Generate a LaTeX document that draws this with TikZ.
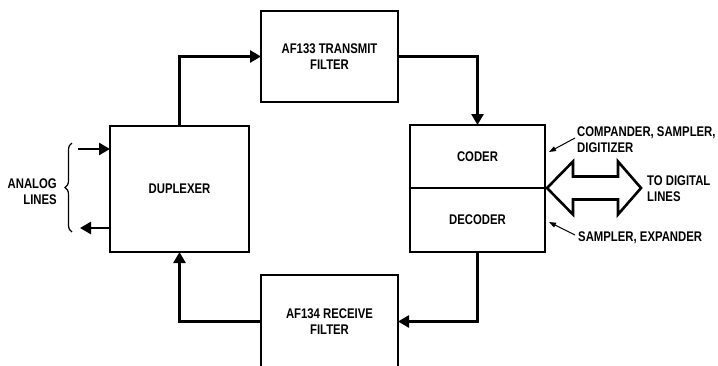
\documentclass[tikz,border=0pt]{standalone}
\usepackage{fontspec}
\newfontfamily\lblfont{Liberation Sans}[FakeStretch=0.81]
\usetikzlibrary{arrows.meta,decorations.pathreplacing,calc}
\begin{document}
\begin{tikzpicture}[x=1pt,y=-1pt,
  every node/.style={font=\lblfont\bfseries\fontsize{14}{16}\selectfont},
  blk/.style={draw, line width=2.6pt, inner sep=0pt, outer sep=0pt, align=center},
  conn/.style={line width=2.6pt, -{Triangle[length=11pt,width=12pt]}},
  thinarr/.style={line width=1pt, -{Triangle[length=7pt,width=5pt]}},
  lbl/.style={inner sep=0pt, align=left}
]
\useasboundingbox (0,0) rectangle (718,365);
\clip (0,0) rectangle (718,365);

% blocks
\node[blk, minimum width=139pt, minimum height=126pt] (dup) at (179.5,189) {DUPLEXER};
\node[blk, minimum width=137pt, minimum height=91pt] (tx) at (329.5,56.5) {AF133 TRANSMIT\\FILTER};
\node[blk, minimum width=137pt, minimum height=93pt] (rx) at (329.5,321.5) {AF134 RECEIVE\\FILTER};
\node[blk, minimum width=135pt, minimum height=63pt] (coder) at (477.5,156.5) {CODER};
\node[blk, minimum width=135pt, minimum height=64pt] (decoder) at (477.5,220) {DECODER};

% connectors
\draw[conn] (dup.north) |- (tx.west);
\draw[conn] (tx.east) -| (coder.north);
\draw[conn] (decoder.south) |- (rx.east);
\draw[conn] (rx.west) -| (dup.south);

% analog lines
\coordinate (ain) at (78,149);
\coordinate (aout) at (80,228);
\draw[conn] (ain) -- (ain -| dup.west);
\draw[conn] (aout -| dup.west) -- (aout);
\draw[line width=1.2pt, decorate, decoration={brace, amplitude=7pt}] (72,232) -- (72,143);
\node[lbl, align=right, anchor=east] (analog) at (57,191.5) {ANALOG\\LINES};

% double arrow to digital lines
\coordinate (da) at (594,188);
\draw[line width=2.6pt, line join=miter, fill=white]
  ($(da)+(-47,0)$) -- ($(da)+(-21,-26.5)$) -- ($(da)+(-21,-11.5)$) -- ($(da)+(24,-11.5)$)
  -- ($(da)+(24,-26.5)$) -- ($(da)+(47,0)$) -- ($(da)+(24,26.5)$) -- ($(da)+(24,11.5)$)
  -- ($(da)+(-21,11.5)$) -- ($(da)+(-21,26.5)$) -- cycle;
\node[lbl, anchor=west] (digital) at (647,189) {TO DIGITAL\\LINES};

% callouts
\node[lbl, anchor=west] (comp) at (577,139.5) {COMPANDER, SAMPLER,\\DIGITIZER};
\node[lbl, anchor=west] (samp) at (578,238) {SAMPLER, EXPANDER};
\coordinate (c1) at (575,138);
\coordinate (c2) at (575,235);
\draw[thinarr] (c1) -- (549,152);
\draw[thinarr] (c2) -- (549,222);
\end{tikzpicture}
\end{document}
